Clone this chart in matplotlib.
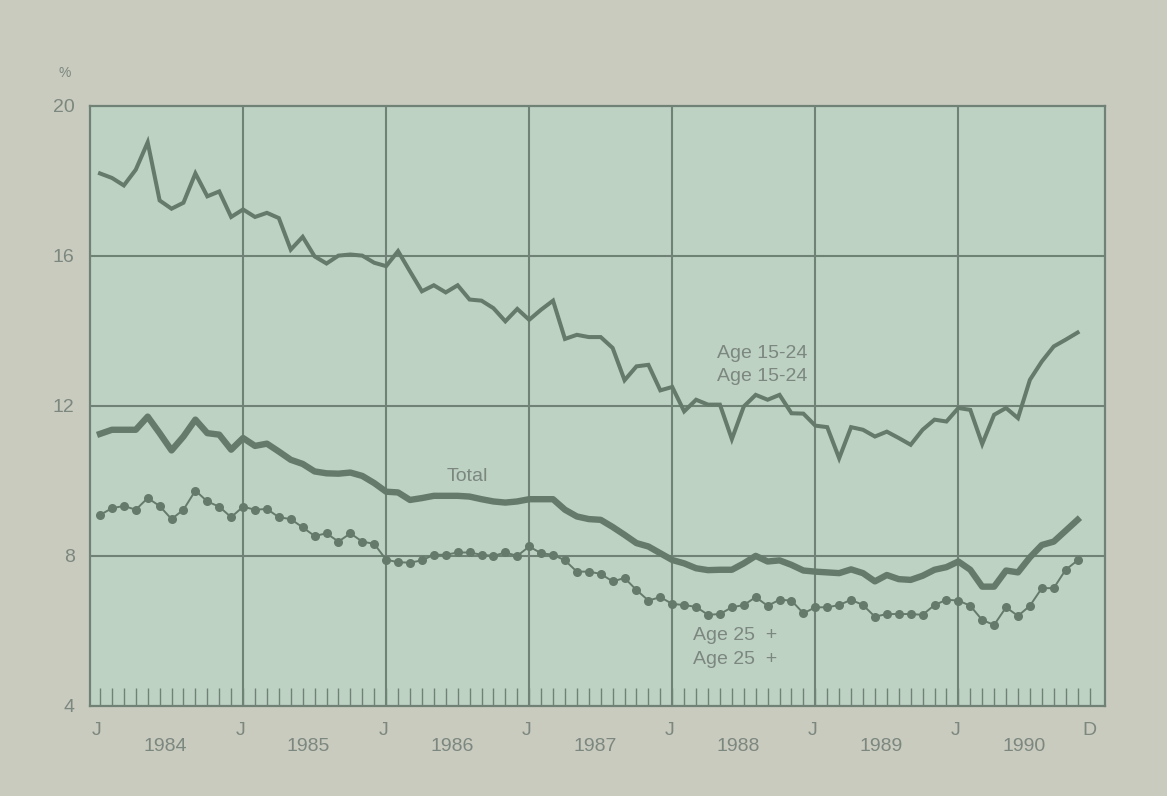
import numpy as np
import matplotlib
matplotlib.use("Agg")
import matplotlib.pyplot as plt

plt.rcParams['font.family'] = ['Liberation Sans', 'DejaVu Sans']

# Monthly data, January 1984 .. November 1990
years = ["1984", "1985", "1986", "1987", "1988", "1989", "1990"]
age_15_24 = [18.19, 18.07, 17.87, 18.29, 19.02, 17.47, 17.25, 17.41, 18.19, 17.58, 17.71, 17.03,
             17.23, 17.03, 17.14, 17.00, 16.16, 16.50, 15.98, 15.79, 16.00, 16.03, 16.00, 15.81,
             15.72, 16.12, 15.58, 15.05, 15.21, 15.02, 15.21, 14.83, 14.80, 14.60, 14.25, 14.58,
             14.29, 14.56, 14.80, 13.78, 13.89, 13.83, 13.83, 13.54, 12.68, 13.05, 13.09, 12.41,
             12.50, 11.85, 12.16, 12.03, 12.03, 11.11, 11.98, 12.29, 12.16, 12.29, 11.80, 11.79,
             11.47, 11.43, 10.60, 11.43, 11.36, 11.18, 11.31, 11.14, 10.96, 11.36, 11.63, 11.58,
             11.94, 11.89, 10.98, 11.76, 11.94, 11.67, 12.69, 13.18, 13.58, 13.76, 13.95]
total = [11.25, 11.36, 11.36, 11.36, 11.71, 11.27, 10.81, 11.18, 11.63, 11.27, 11.23, 10.83,
         11.14, 10.93, 10.99, 10.78, 10.56, 10.45, 10.25, 10.20, 10.19, 10.22, 10.13, 9.94,
         9.71, 9.69, 9.49, 9.54, 9.60, 9.60, 9.60, 9.58, 9.51, 9.45, 9.42, 9.45,
         9.51, 9.51, 9.51, 9.23, 9.05, 8.98, 8.96, 8.77, 8.56, 8.34, 8.25, 8.07,
         7.89, 7.80, 7.67, 7.62, 7.63, 7.63, 7.80, 8.00, 7.85, 7.88, 7.76, 7.61,
         7.58, 7.56, 7.54, 7.64, 7.54, 7.32, 7.49, 7.38, 7.36, 7.47, 7.63, 7.70,
         7.85, 7.63, 7.18, 7.18, 7.61, 7.56, 7.96, 8.29, 8.38, 8.67, 8.96]
age_25_plus = [9.09, 9.27, 9.33, 9.23, 9.54, 9.33, 8.98, 9.23, 9.74, 9.45, 9.31, 9.03,
               9.31, 9.23, 9.25, 9.03, 8.98, 8.76, 8.53, 8.60, 8.38, 8.60, 8.38, 8.32,
               7.90, 7.83, 7.82, 7.88, 8.03, 8.03, 8.09, 8.09, 8.03, 8.00, 8.09, 8.00,
               8.25, 8.07, 8.03, 7.88, 7.58, 7.58, 7.52, 7.32, 7.41, 7.09, 6.81, 6.90,
               6.72, 6.69, 6.64, 6.43, 6.45, 6.63, 6.69, 6.90, 6.67, 6.83, 6.81, 6.47,
               6.63, 6.63, 6.69, 6.83, 6.69, 6.38, 6.45, 6.45, 6.45, 6.43, 6.69, 6.83,
               6.81, 6.67, 6.29, 6.16, 6.63, 6.40, 6.67, 7.14, 7.14, 7.63, 7.88]
y_ticks = [4, 8, 12, 16, 20]

FIG_BG = "#c9cbbf"
AX_BG = "#bdd2c3"
LINE = "#667a6c"
GRID = "#6f8275"
TEXT = "#7c877f"

fig = plt.figure(figsize=(11.67, 7.96), dpi=100, facecolor=FIG_BG)
ax = fig.add_axes([90 / 1167, 1 - 706 / 796, 1015 / 1167, 600.5 / 796])
ax.set_facecolor(AX_BG)

n_months = 12 * len(years)
ax.set_xlim(-0.84, 84.3)
ax.set_ylim(4, 20)

for v in y_ticks[1:-1]:
    ax.axhline(v, color=GRID, lw=1.5, zorder=1)
for k in range(1, len(years)):
    ax.axvline(12 * k, color=GRID, lw=1.5, zorder=1)

ax.plot(np.arange(len(age_15_24)), age_15_24, color=LINE, lw=2.9, solid_joinstyle='miter', zorder=3)
ax.plot(np.arange(len(total)), total, color=LINE, lw=4.6, solid_joinstyle='round', zorder=3)
ax.plot(np.arange(len(age_25_plus)), age_25_plus, color=LINE, lw=1.4, marker='o',
        markersize=6.5, markeredgewidth=0, zorder=4)

for s in ax.spines.values():
    s.set_color(GRID)
    s.set_linewidth(1.6)

ax.set_xticks(np.arange(n_months))
ax.tick_params(axis='x', direction='in', length=13, width=1.0, color=GRID,
               labelbottom=False, bottom=True)
ax.set_yticks(y_ticks)
ax.set_yticklabels([str(v) for v in y_ticks])
ax.tick_params(axis='y', length=0, pad=11, labelsize=14, labelcolor=TEXT)

trans = ax.get_xaxis_transform()
for k, yr in enumerate(years):
    ax.text(12 * k - 0.25, -0.04, "J", transform=trans, ha='center', va='center',
            fontsize=14, color=TEXT)
    ax.text(12 * k + 5.5, -0.068, yr, transform=trans, ha='center', va='center',
            fontsize=14, color=TEXT)
ax.text(n_months - 1, -0.04, "D", transform=trans, ha='center', va='center',
        fontsize=14, color=TEXT)

fig.text(65 / 1167, 1 - 73 / 796, "%", ha='center', va='center', fontsize=10, color=TEXT)

ax.text(51.76, 13.39, "Age 15-24", ha='left', va='center', fontsize=14, color=TEXT)
ax.text(51.76, 12.77, "Age 15-24", ha='left', va='center', fontsize=14, color=TEXT)
ax.text(29.1, 10.11, "Total", ha='left', va='center', fontsize=14, color=TEXT)
ax.text(49.75, 5.87, "Age 25  +", ha='left', va='center', fontsize=14, color=TEXT)
ax.text(49.75, 5.25, "Age 25  +", ha='left', va='center', fontsize=14, color=TEXT)

fig.savefig("out.png", dpi=100, facecolor=FIG_BG)
